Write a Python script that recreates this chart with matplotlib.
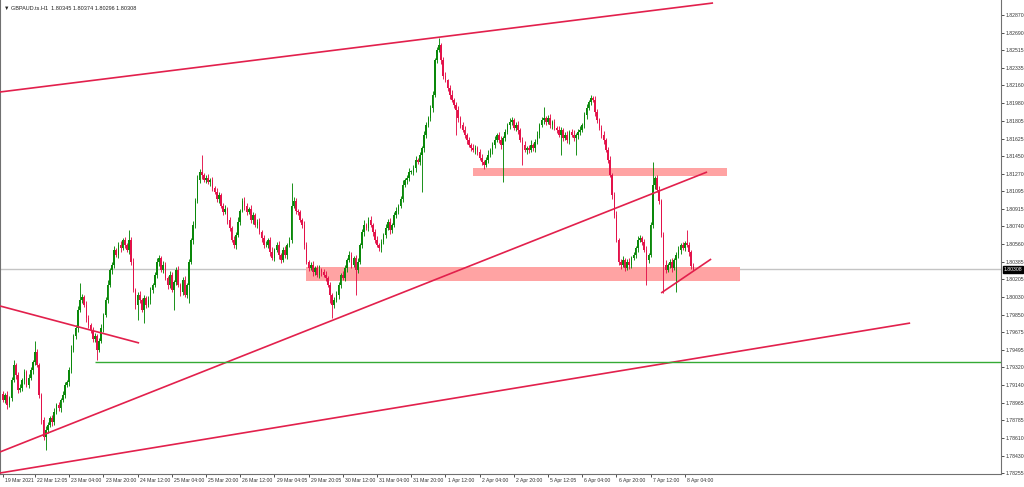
import numpy as np
import matplotlib.pyplot as plt
from matplotlib.transforms import ScaledTranslation

# GBPAUD H1 closes (bar by bar)
closes = [
    1.7899, 1.7904, 1.7894, 1.7901, 1.7919, 1.7934, 1.7924, 1.7909, 1.7911, 1.7919,
    1.7927, 1.7914, 1.7921, 1.7929, 1.7937, 1.7947, 1.7934, 1.7904, 1.7879, 1.7862,
    1.7869, 1.7874, 1.7881, 1.7877, 1.7887, 1.7894, 1.7891, 1.7899, 1.7904, 1.7914,
    1.7917, 1.7929, 1.7949, 1.7964, 1.7972, 1.7990, 1.8000, 1.8003, 1.7995, 1.7982,
    1.7975, 1.7969, 1.7961, 1.7964, 1.7949, 1.7959, 1.7972, 1.7985, 1.8000, 1.8015,
    1.8030, 1.8035, 1.8050, 1.8045, 1.8055, 1.8052, 1.8060, 1.8055, 1.8050, 1.8060,
    1.8038, 1.8010, 1.7995, 1.8005, 1.8000, 1.7990, 1.8002, 1.7995, 1.8000, 1.8010,
    1.8015, 1.8025, 1.8038, 1.8042, 1.8030, 1.8035, 1.8022, 1.8015, 1.8025, 1.8010,
    1.8018, 1.8030, 1.8015, 1.8008, 1.8020, 1.8005, 1.8015, 1.8038, 1.8060, 1.8075,
    1.8100, 1.8121, 1.8129, 1.8126, 1.8121, 1.8123, 1.8119, 1.8121, 1.8113, 1.8109,
    1.8102, 1.8106, 1.8095, 1.8088, 1.8092, 1.8080, 1.8072, 1.8060, 1.8055, 1.8065,
    1.8078, 1.8090, 1.8100, 1.8095, 1.8088, 1.8092, 1.8080, 1.8085, 1.8075, 1.8078,
    1.8068, 1.8062, 1.8055, 1.8055, 1.8060, 1.8048, 1.8042, 1.8050, 1.8055, 1.8045,
    1.8040, 1.8050, 1.8045, 1.8055, 1.8060, 1.8095, 1.8100, 1.8090, 1.8088, 1.8080,
    1.8075, 1.8055, 1.8038, 1.8032, 1.8035, 1.8028, 1.8032, 1.8025, 1.8030, 1.8028,
    1.8025, 1.8022, 1.8015, 1.8005, 1.7995, 1.8000, 1.8005, 1.8015, 1.8025, 1.8022,
    1.8032, 1.8040, 1.8045, 1.8035, 1.8042, 1.8030, 1.8038, 1.8055, 1.8068, 1.8075,
    1.8072, 1.8080, 1.8075, 1.8068, 1.8060, 1.8055, 1.8052, 1.8058, 1.8065, 1.8072,
    1.8078, 1.8070, 1.8075, 1.8085, 1.8090, 1.8095, 1.8102, 1.8116, 1.8121, 1.8123,
    1.8129, 1.8129, 1.8133, 1.8141, 1.8139, 1.8146, 1.8153, 1.8166, 1.8176, 1.8183,
    1.8193, 1.8206, 1.8242, 1.8252, 1.8257, 1.8242, 1.8226, 1.8221, 1.8213, 1.8206,
    1.8201, 1.8196, 1.8191, 1.8183, 1.8176, 1.8171, 1.8166, 1.8161, 1.8156, 1.8153,
    1.8151, 1.8153, 1.8149, 1.8143, 1.8139, 1.8136, 1.8141, 1.8146, 1.8151, 1.8156,
    1.8161, 1.8166, 1.8161, 1.8156, 1.8163, 1.8169, 1.8176, 1.8179, 1.8181, 1.8173,
    1.8176, 1.8171, 1.8161, 1.8156, 1.8151, 1.8153, 1.8151, 1.8156, 1.8153, 1.8159,
    1.8166, 1.8176, 1.8181, 1.8183, 1.8179, 1.8183, 1.8176, 1.8179, 1.8173, 1.8171,
    1.8166, 1.8171, 1.8163, 1.8166, 1.8161, 1.8169, 1.8166, 1.8163, 1.8166, 1.8169,
    1.8171, 1.8176, 1.8186, 1.8193, 1.8199, 1.8203, 1.8201, 1.8189, 1.8181, 1.8173,
    1.8166, 1.8161, 1.8151, 1.8141, 1.8126, 1.8106, 1.8085, 1.8060, 1.8038, 1.8035,
    1.8040, 1.8032, 1.8038, 1.8035, 1.8042, 1.8045, 1.8052, 1.8060, 1.8062, 1.8058,
    1.8050, 1.8040, 1.8045, 1.8075, 1.8116, 1.8123, 1.8111, 1.8100, 1.8065, 1.8035,
    1.8030, 1.8035, 1.8038, 1.8032, 1.8040, 1.8045, 1.8050, 1.8055, 1.8052, 1.8057,
    1.8055, 1.8048, 1.80345, 1.80308,
]
first_open = 1.7905

# wick lengths in pips above the body / below the body
upper_wick = [
    3, 2, 4, 2, 3, 5, 2, 3, 4, 2, 3, 2, 4, 3, 2, 12, 3, 2, 2, 3,
    4, 3, 2, 3, 4, 2, 3, 2, 4, 3, 2, 3, 5, 2, 3, 4, 17, 3, 2, 4,
    3, 2, 4, 3, 2, 3, 4, 2, 3, 5, 2, 3, 4, 2, 3, 4, 2, 3, 2, 10,
    3, 4, 2, 3, 4, 2, 3, 2, 4, 3, 2, 3, 4, 3, 2, 4, 3, 2, 4, 3,
    2, 3, 4, 2, 3, 4, 2, 3, 2, 4, 3, 5, 3, 17, 2, 3, 4, 2, 3, 2,
    4, 3, 2, 3, 4, 2, 3, 2, 4, 3, 5, 2, 3, 4, 3, 2, 4, 3, 2, 3,
    4, 2, 3, 4, 2, 3, 5, 2, 3, 4, 2, 3, 4, 2, 3, 23, 4, 3, 2, 3,
    2, 4, 3, 2, 3, 4, 2, 3, 5, 2, 3, 4, 2, 3, 2, 3, 4, 3, 2, 4,
    3, 2, 4, 3, 2, 3, 4, 2, 3, 5, 2, 3, 4, 2, 3, 4, 2, 3, 2, 4,
    3, 4, 2, 3, 4, 2, 3, 5, 2, 3, 4, 2, 3, 4, 2, 3, 2, 4, 3, 2,
    3, 4, 2, 3, 7, 2, 3, 4, 2, 3, 5, 2, 3, 4, 2, 3, 4, 2, 3, 2,
    4, 3, 2, 3, 4, 2, 3, 5, 2, 3, 4, 2, 3, 4, 2, 3, 2, 4, 3, 2,
    3, 4, 2, 3, 4, 2, 3, 5, 2, 3, 4, 2, 3, 11, 2, 3, 4, 2, 3, 2,
    4, 3, 2, 3, 4, 2, 3, 5, 2, 3, 4, 2, 3, 4, 2, 3, 2, 4, 3, 2,
    3, 4, 2, 3, 4, 2, 3, 5, 2, 3, 4, 2, 3, 4, 2, 3, 2, 4, 3, 2,
    3, 4, 2, 3, 23, 2, 3, 4, 2, 3, 5, 2, 3, 4, 2, 3, 4, 2, 3, 2,
    13, 3, 2, 2.9,
]
lower_wick = [
    2, 3, 4, 2, 3, 2, 4, 3, 2, 3, 4, 2, 3, 2, 4, 3, 2, 3, 4, 3,
    13, 3, 2, 4, 3, 2, 3, 4, 2, 3, 2, 4, 3, 2, 3, 4, 2, 3, 2, 4,
    3, 2, 4, 3, 10, 2, 3, 4, 2, 3, 2, 4, 3, 2, 3, 4, 2, 3, 2, 4,
    3, 2, 4, 15, 3, 2, 13, 3, 2, 4, 3, 2, 3, 4, 2, 3, 2, 4, 3, 2,
    20, 3, 2, 4, 3, 2, 3, 18, 2, 4, 3, 2, 3, 4, 2, 3, 2, 4, 3, 2,
    3, 4, 2, 3, 2, 4, 3, 2, 3, 4, 2, 3, 2, 4, 3, 2, 3, 4, 2, 3,
    2, 4, 3, 2, 3, 4, 2, 3, 2, 4, 3, 2, 3, 4, 2, 3, 2, 4, 3, 2,
    3, 4, 2, 3, 2, 4, 3, 2, 3, 4, 2, 3, 2, 8, 13, 3, 2, 4, 3, 2,
    3, 4, 2, 3, 2, 25, 3, 2, 3, 4, 2, 3, 2, 4, 3, 2, 3, 4, 2, 3,
    2, 4, 3, 2, 3, 4, 2, 3, 2, 4, 3, 2, 3, 4, 2, 3, 37, 4, 3, 2,
    3, 4, 2, 3, 2, 4, 3, 2, 3, 4, 2, 3, 25, 4, 3, 2, 3, 4, 2, 3,
    2, 4, 3, 2, 3, 4, 2, 3, 2, 4, 3, 2, 3, 4, 37, 3, 2, 4, 3, 2,
    3, 4, 2, 20, 2, 4, 3, 2, 3, 4, 2, 3, 2, 4, 3, 2, 3, 4, 2, 3,
    2, 20, 3, 2, 3, 4, 2, 3, 17, 4, 3, 2, 3, 4, 2, 3, 2, 4, 3, 2,
    3, 4, 2, 3, 2, 4, 3, 2, 3, 4, 2, 3, 2, 4, 3, 2, 3, 4, 2, 3,
    2, 25, 3, 2, 3, 4, 2, 3, 2, 28, 3, 2, 3, 4, 2, 32, 3, 4, 2, 3,
    2, 4, 3, 1.2,
]

price_ticks = [1.82870, 1.82690, 1.82515, 1.82335, 1.82160, 1.81980, 1.81805,
               1.81625, 1.81450, 1.81270, 1.81095, 1.80915, 1.80740, 1.80560,
               1.80385, 1.80205, 1.80030, 1.79850, 1.79675, 1.79495, 1.79320,
               1.79140, 1.78965, 1.78785, 1.78610, 1.78430, 1.78255]
time_labels = ["19 Mar 2021", "22 Mar 12:05", "23 Mar 04:00", "23 Mar 20:00",
               "24 Mar 12:00", "25 Mar 04:00", "25 Mar 20:00", "26 Mar 12:00",
               "29 Mar 04:05", "29 Mar 20:05", "30 Mar 12:00", "31 Mar 04:00",
               "31 Mar 20:00", "1 Apr 12:00", "2 Apr 04:00", "2 Apr 20:00",
               "5 Apr 12:05", "6 Apr 04:00", "6 Apr 20:00", "7 Apr 12:00",
               "8 Apr 04:00"]
time_label_bars = [0, 15, 31, 47, 63, 79, 95, 111, 127, 143, 159, 175, 191,
                   207, 223, 239, 255, 271, 287, 303, 319]

# objects drawn on the chart: (bar, price) pairs
red_lines = [
    ((-1.4, 1.82094), (332.2, 1.82991)),
    ((-1.4, 1.79938), (63.7, 1.79565)),
    ((-1.4, 1.78467), (329.4, 1.81288)),
    ((-1.4, 1.78255), (424.4, 1.79766)),
    ((307.9, 1.80069), (331.3, 1.80411)),
]
green_level = (43.1, 1.79373)
zones = [
    (219.9, 338.7, 1.81248, 1.81328),
    (141.8, 344.8, 1.80190, 1.80331),
]
symbol = "GBPAUD.ts.H1"

BULL = '#0a880a'
BEAR = '#e3124a'
LINE_RED = '#e2204c'

closes = np.array(closes)
opens = np.concatenate([[first_open], closes[:-1]])
opens[-1] = 1.80345
top = np.maximum(opens, closes)
bot = np.minimum(opens, closes)
highs = top + np.array(upper_wick) * 1e-4
lows = bot - np.array(lower_wick) * 1e-4
x = np.arange(len(closes))

fig = plt.figure(figsize=(10.24, 4.87), dpi=100)
ax = fig.add_axes([0, 13 / 487, 1001 / 1024, 474 / 487])
ax.set_xlim(-1.38, 466.9)
ax.set_ylim(1.78245, 1.83021)

up = closes >= opens
colors = np.where(up, BULL, BEAR)
ax.vlines(x, lows, highs, colors=colors, lw=0.65, zorder=3)
ax.bar(x, np.maximum(top - bot, 0.00004), bottom=bot, width=0.75,
       color=colors, linewidth=0, zorder=4)

for x0, x1, y0, y1 in zones:
    ax.fill_between([x0, x1], y0, y1, color='#ffa3a3', lw=0, zorder=1)

for (x0, y0), (x1, y1) in red_lines:
    ax.plot([x0, x1], [y0, y1], color=LINE_RED, lw=1.2, zorder=5,
            solid_capstyle='butt')
ax.hlines(green_level[1], green_level[0], ax.get_xlim()[1], color='#35aa35',
          lw=1.0, zorder=5)

# current price line and label
last = closes[-1]
ax.axhline(last, color='#c4c4c4', lw=1.0, zorder=0.5)
ax.annotate(f"{last:.5f}", xy=(1, last), xycoords=('axes fraction', 'data'),
            xytext=(2.0, 0), textcoords='offset points', va='center', ha='left',
            fontsize=3.7, color='white', family='Liberation Sans',
            bbox=dict(boxstyle='square,pad=0.2', fc='black', ec='black'))

# axes styling
ax.spines['top'].set_visible(False)
for s in ['left', 'right', 'bottom']:
    ax.spines[s].set_color('#707070')
    ax.spines[s].set_linewidth(0.8)

ax.yaxis.tick_right()
ax.set_yticks(price_ticks)
ax.set_yticklabels([f"{p:.5f}" for p in price_ticks])
ax.tick_params(axis='y', length=2.2, width=0.6, pad=1.0, labelsize=3.7,
               colors='#333333')
ax.set_xticks(time_label_bars)
ax.set_xticklabels(time_labels)
ax.tick_params(axis='x', length=2.2, width=0.6, pad=1.0, labelsize=3.7,
               colors='#333333')
offset = ScaledTranslation(1.5 / 72, 0, fig.dpi_scale_trans)
for lbl in ax.get_xticklabels():
    lbl.set_horizontalalignment('left')
    lbl.set_transform(lbl.get_transform() + offset)
for lbl in ax.get_xticklabels() + ax.get_yticklabels():
    lbl.set_family('Liberation Sans')

title = (f"\u25bc {symbol}  {opens[-1]:.5f} {highs[-1]:.5f} "
         f"{lows[-1]:.5f} {closes[-1]:.5f}")
ax.text(0.004, 0.988, title, transform=ax.transAxes, ha='left', va='top',
        fontsize=4.0, color='#222222', family=['Liberation Sans', 'DejaVu Sans'])

fig.savefig('out.png', dpi=100)
